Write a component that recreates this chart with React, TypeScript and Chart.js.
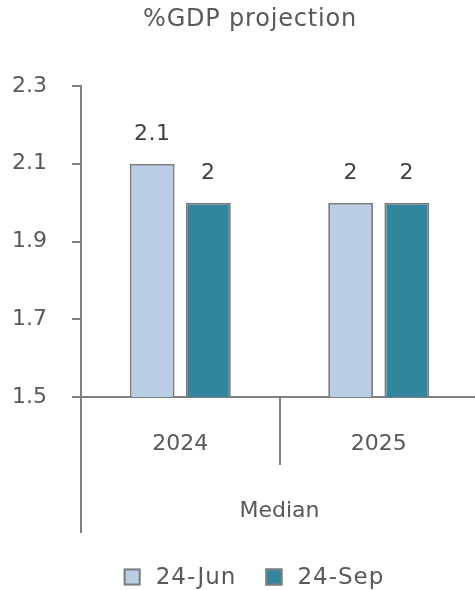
import React, { useEffect, useRef } from 'react';
import { Chart, registerables } from 'chart.js';

Chart.register(...registerables);

// ---- data ----
const TITLE = '%GDP projection';
const CATEGORIES = ['2024', '2025'];
const GROUP_LABELS = ['Median'];
const SERIES_NAMES = ['24-Jun', '24-Sep'];
const JUN_VALUES = [2.1, 2.0];
const SEP_VALUES = [2.0, 2.0];
const Y_MIN = 1.5;
const Y_MAX = 2.3;
const Y_STEP = 0.2;

// ---- styles ----
const FONT = "'DejaVu Sans', sans-serif";
const TEXT = '#595959';
const LABEL_TEXT = '#404040';
const AXIS = '#7f7f7f';
const COLORS = ['#b9cde5', '#31859c'];

const annotate = {
  id: 'annotate',
  afterDatasetsDraw(chart: any) {
    const ctx = chart.ctx;
    ctx.save();
    ctx.font = `22px ${FONT}`;
    (ctx as any).letterSpacing = '0.5px';
    ctx.fillStyle = LABEL_TEXT;
    ctx.textAlign = 'center';
    ctx.textBaseline = 'middle';
    chart.data.datasets.forEach((ds: any, i: number) => {
      const meta = chart.getDatasetMeta(i);
      meta.data.forEach((el: any, j: number) => {
        ctx.fillText(String(ds.data[j]), el.x, el.y - 29);
      });
    });
    ctx.restore();
  },
  afterDraw(chart: any) {
    const ctx = chart.ctx;
    ctx.save();
    // title
    ctx.font = `24px ${FONT}`;
    (ctx as any).letterSpacing = '0.8px';
    ctx.fillStyle = TEXT;
    ctx.textAlign = 'center';
    ctx.textBaseline = 'middle';
    ctx.fillText(TITLE, 250, 20);

    // legend
    ctx.font = `23px ${FONT}`;
    (ctx as any).letterSpacing = '1px';
    ctx.textAlign = 'left';
    const box = 17;
    const gapText = 15;
    const gapItem = 29;
    const widths = chart.data.datasets.map((ds: any) => ctx.measureText(ds.label).width);
    let total = 0;
    widths.forEach((w: number, i: number) => {
      total += box + gapText + w + (i < widths.length - 1 ? gapItem : 0);
    });
    let x = 254 - total / 2;
    const cy = 577;
    chart.data.datasets.forEach((ds: any, i: number) => {
      ctx.fillStyle = ds.backgroundColor;
      ctx.fillRect(x, cy - box / 2, box, box);
      ctx.strokeStyle = AXIS;
      ctx.lineWidth = 2;
      ctx.strokeRect(x + 1, cy - box / 2 + 1, box - 2, box - 2);
      ctx.fillStyle = TEXT;
      ctx.fillText(ds.label, x + box + gapText, cy + 1);
      x += box + gapText + widths[i] + gapItem;
    });
    ctx.restore();
  },
};

export default function App() {
  const ref = useRef<HTMLCanvasElement | null>(null);

  useEffect(() => {
    if (!ref.current) return;
    const chart = new Chart(ref.current, {
      type: 'bar',
      data: {
        labels: CATEGORIES,
        datasets: [
          {
            label: SERIES_NAMES[0],
            data: JUN_VALUES,
            backgroundColor: COLORS[0],
            borderColor: AXIS,
            borderWidth: 2,
            borderSkipped: false,
            categoryPercentage: 0.566,
            barPercentage: 0.8,
          },
          {
            label: SERIES_NAMES[1],
            data: SEP_VALUES,
            backgroundColor: COLORS[1],
            borderColor: AXIS,
            borderWidth: 2,
            borderSkipped: false,
            categoryPercentage: 0.566,
            barPercentage: 0.8,
          },
        ],
      },
      options: {
        responsive: false,
        animation: false,
        layout: { padding: { top: 86, bottom: 57, left: 0, right: 0 } },
        plugins: {
          legend: { display: false },
          title: { display: false },
          tooltip: { enabled: false },
        },
        scales: {
          x: {
            type: 'category',
            position: 'bottom',
            weight: 0,
            grid: {
              display: true,
              offset: true,
              drawOnChartArea: false,
              drawTicks: true,
              tickLength: 68,
              color: AXIS,
              lineWidth: 2,
            },
            border: { display: true, color: AXIS, width: 2 },
            ticks: {
              font: { family: FONT, size: 22 },
              color: TEXT,
              padding: -34,
              maxRotation: 0,
            },
            afterFit: (scale: any) => {
              scale.height = 68;
            },
          },
          x2: {
            type: 'category',
            position: 'bottom',
            weight: 1,
            labels: GROUP_LABELS,
            grid: {
              display: true,
              offset: true,
              drawOnChartArea: false,
              drawTicks: true,
              tickLength: 68,
              color: AXIS,
              lineWidth: 2,
            },
            border: { display: false },
            ticks: {
              font: { family: FONT, size: 22 },
              color: TEXT,
              padding: -35,
              maxRotation: 0,
            },
            afterFit: (scale: any) => {
              scale.height = 68;
            },
          },
          y: {
            min: Y_MIN,
            max: Y_MAX,
            grid: {
              display: true,
              drawOnChartArea: false,
              drawTicks: true,
              tickLength: 9,
              color: AXIS,
              lineWidth: 2,
            },
            border: { display: true, color: AXIS, width: 2 },
            ticks: {
              stepSize: Y_STEP,
              font: { family: FONT, size: 22 },
              color: TEXT,
              padding: 25,
              callback: (v: any) => Number(v).toFixed(1),
            },
            afterFit: (scale: any) => {
              scale.width = 81;
            },
          },
        },
      },
      plugins: [annotate],
    } as any);
    return () => chart.destroy();
  }, []);

  return (
    <div style={{ position: 'absolute', left: 0, top: 0, width: 475, height: 590, overflow: 'hidden', background: '#fff' }}>
      <canvas ref={ref} width={478} height={590} style={{ display: 'block' }} />
    </div>
  );
}
